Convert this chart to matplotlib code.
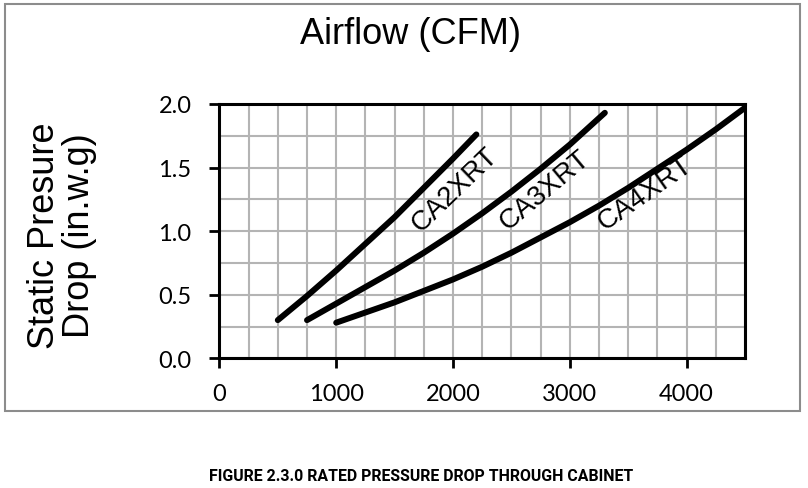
import matplotlib
matplotlib.use('Agg')
import matplotlib.pyplot as plt
from matplotlib.patches import Rectangle
from matplotlib import font_manager

# 读取的曲线数据 (CFM, in.w.g)
ca2_cfm = [500, 750, 1000, 1250, 1500, 1750, 2000, 2200]
ca2_dp = [0.30, 0.49, 0.69, 0.90, 1.11, 1.34, 1.57, 1.76]

ca3_cfm = [750, 1000, 1250, 1500, 1750, 2000, 2250, 2500, 2750, 3000, 3300]
ca3_dp = [0.30, 0.43, 0.56, 0.69, 0.83, 0.98, 1.14, 1.31, 1.49, 1.68, 1.93]

ca4_cfm = [1000, 1250, 1500, 1750, 2000, 2250, 2500, 2750, 3000, 3250, 3500, 3750, 4000, 4250, 4500]
ca4_dp = [0.28, 0.36, 0.44, 0.53, 0.62, 0.72, 0.83, 0.95, 1.07, 1.20, 1.34, 1.49, 1.64, 1.80, 1.97]

series = [('CA2XRT', ca2_cfm, ca2_dp, (2020, 1.33), 44),
          ('CA3XRT', ca3_cfm, ca3_dp, (2790, 1.33), 40),
          ('CA4XRT', ca4_cfm, ca4_dp, (3647, 1.30), 35)]

x_ticks = [0, 1000, 2000, 3000, 4000]
y_ticks = [0.0, 0.5, 1.0, 1.5, 2.0]

fig = plt.figure(figsize=(8.08, 4.89), dpi=100)
fig.patches.append(Rectangle((5/808, 1-412/489), 795/808, 407/489, transform=fig.transFigure,
                             fill=False, edgecolor='#8c8c8c', linewidth=1.5))
ax = fig.add_axes([219.4/808, 1-359.3/489, 525.6/808, 254.4/489])

ax.set_xlim(0, 4500)
ax.set_ylim(0, 2.0)
ax.set_xticks([i*250 for i in range(19)], minor=True)
ax.set_yticks([i*0.25 for i in range(9)], minor=True)
ax.set_xticks(x_ticks)
ax.set_yticks(y_ticks)
ax.grid(which='both', color='#b4b4b4', linewidth=1.5)
ax.set_axisbelow(True)
ax.set_xticklabels([str(v) for v in x_ticks], fontfamily='Lato', fontsize=17)
ax.set_yticklabels(['%.1f' % v for v in y_ticks], fontfamily='Lato', fontsize=17)
ax.tick_params(which='major', length=7, width=2, pad=11, direction='out')
ax.tick_params(axis='y', which='major', pad=13)
ax.tick_params(which='minor', length=0)
for s in ax.spines.values():
    s.set_linewidth(2.2)
    s.set_zorder(5)

for name, xs, ys, pos, rot in series:
    ax.plot(xs, ys, color='black', linewidth=4.3, solid_capstyle='round', solid_joinstyle='round', zorder=4)
    ax.text(pos[0], pos[1], name, rotation=rot, rotation_mode='anchor', ha='center', va='center',
            fontfamily='Liberation Sans', fontsize=20, zorder=6)

fig.text(410/808, 1-35/489, 'Airflow (CFM)', ha='center', va='center',
         fontfamily='Liberation Sans', fontsize=26)
fig.text(62/808, 1-236/489, 'Static Presure\nDrop (in.w.g)', ha='center', va='center',
         rotation=90, fontfamily='Liberation Sans', fontsize=26, linespacing=1.0)

# 图注用窄体粗字，按目标宽度调整字号
try:
    font_manager.findfont('Liberation Sans Narrow', fallback_to_default=False)
    cap_font = 'Liberation Sans Narrow'
except Exception:
    cap_font = 'Roboto'
cap = fig.text(421/808, 1-477/489, 'FIGURE 2.3.0 RATED PRESSURE DROP THROUGH CABINET', ha='center', va='center',
               fontfamily=cap_font, fontweight='bold', fontsize=11)
r = fig.canvas.get_renderer()
w = cap.get_window_extent(renderer=r).width
cap.set_fontsize(11*425/w)

fig.savefig('out.png', dpi=100)
